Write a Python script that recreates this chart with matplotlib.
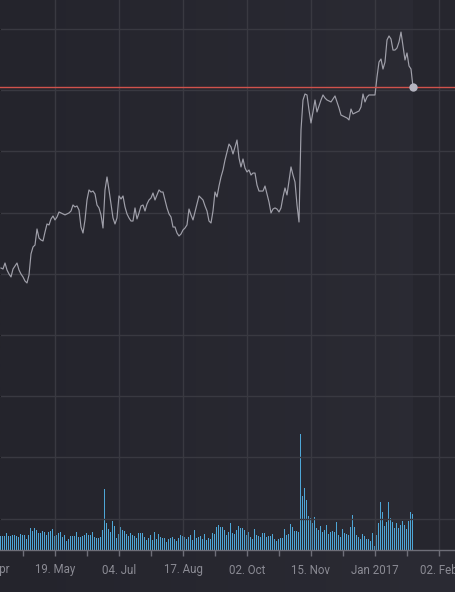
import numpy as np
import matplotlib
matplotlib.use("Agg")
import matplotlib.pyplot as plt
from matplotlib.ticker import FixedLocator, MultipleLocator
import matplotlib.transforms as mtransforms

# ---- data ----
price = [
    60.47, 60.39, 60.88, 60.31, 59.98, 59.74, 60.39, 60.64, 60.88, 60.31,
    59.98, 59.74, 59.41, 59.25, 59.90, 61.62, 62.19, 62.35, 63.66, 62.92,
    62.76, 62.68, 63.41, 64.07, 63.99, 64.48, 64.72, 64.40, 64.64, 65.05,
    64.97, 64.89, 64.81, 64.89, 64.97, 65.13, 65.62, 65.46, 65.54, 65.21,
    63.82, 63.33, 64.40, 66.03, 66.85, 66.68, 66.76, 66.52, 65.62, 65.38,
    64.81, 63.74, 66.85, 67.91, 66.85, 65.70, 64.56, 64.07, 64.56, 66.36,
    66.11, 66.36, 65.46, 64.89, 64.56, 64.31, 64.31, 65.38, 64.48, 64.97,
    65.54, 65.62, 65.13, 65.70, 66.03, 66.19, 66.60, 66.03, 66.44, 66.85,
    66.68, 66.68, 66.03, 65.38, 64.89, 64.64, 63.82, 63.82, 63.33, 63.09,
    63.25, 63.58, 63.74, 63.99, 65.29, 64.81, 64.40, 65.05, 65.70, 66.36,
    66.19, 66.03, 65.54, 65.13, 64.31, 64.15, 65.13, 66.68, 66.28, 67.17,
    67.91, 68.48, 69.29, 69.95, 70.60, 70.36, 69.79, 70.36, 70.93, 69.46,
    68.73, 69.38, 68.64, 68.32, 68.48, 68.07, 68.23, 68.23, 67.25, 66.76,
    66.76, 66.76, 67.17, 66.52, 65.86, 64.97, 65.29, 65.38, 65.29, 65.05,
    65.38, 66.28, 67.01, 66.44, 67.58, 68.73, 68.07, 67.50, 65.62, 64.23,
    71.75, 74.20, 74.69, 74.61, 73.38, 72.32, 73.22, 74.20, 73.22, 73.71,
    74.20, 74.61, 74.36, 74.20, 74.12, 74.04, 74.28, 74.53, 74.04, 73.55,
    72.97, 72.89, 72.81, 72.73, 72.57, 73.46, 73.06, 73.14, 73.22, 73.30,
    73.63, 74.69, 74.04, 74.44, 74.61, 74.61, 74.61, 74.61, 76.08, 77.30,
    77.55, 76.73, 77.30, 79.10, 79.43, 79.18, 78.28, 78.28, 78.45, 78.94,
    79.75, 78.61, 77.47, 78.04, 76.98, 76.73, 75.26,
]

volume = [
    1.4, 1.4, 1.4, 1.7, 1.4, 1.4, 1.5, 1.5, 1.4, 1.3,
    1.6, 1.5, 1.5, 1.1, 1.5, 2.2, 1.9, 2.2, 2.0, 1.7,
    1.7, 1.9, 1.8, 1.5, 1.8, 1.9, 2.1, 1.4, 1.5, 1.7,
    1.8, 1.3, 1.5, 0.9, 1.1, 1.4, 1.4, 1.4, 1.8, 1.3,
    1.3, 1.4, 1.5, 1.7, 1.5, 1.5, 1.8, 1.3, 1.2, 1.2,
    1.3, 2.0, 6.1, 2.7, 2.1, 1.8, 2.9, 2.4, 1.2, 1.6,
    2.3, 2.0, 1.9, 1.6, 1.4, 1.7, 1.5, 1.4, 1.2, 1.7,
    1.7, 1.7, 1.3, 1.0, 1.2, 1.5, 1.0, 1.8, 1.1, 1.6,
    1.3, 1.2, 1.2, 0.8, 1.1, 1.2, 1.3, 1.1, 0.9, 1.2,
    1.5, 1.4, 1.3, 1.1, 1.3, 1.5, 1.0, 2.0, 1.2, 1.3,
    1.4, 1.1, 1.6, 1.0, 1.2, 1.1, 1.7, 1.6, 2.3, 2.5,
    2.3, 2.3, 2.0, 1.5,
    1.8, 2.7, 1.7, 1.6, 2.0, 2.4, 2.2, 2.2, 2.0, 1.5,
    1.8, 1.3, 1.1, 2.1, 1.5, 1.4, 1.3, 1.7, 1.7, 1.3,
    1.4, 1.4, 1.6, 1.1, 0.9, 1.1, 1.2, 1.2, 2.1, 1.5,
    1.6, 2.6, 2.3, 1.9, 1.9, 1.8, 11.6, 5.4, 6.2, 5.0,
    3.4, 3.2, 2.7, 3.3, 2.2, 2.0, 2.4, 1.8, 2.0, 2.5,
    1.6, 1.8, 1.9, 1.8, 2.8, 1.5, 1.3, 2.1, 1.7, 1.6,
    1.5, 2.3, 3.5, 2.3, 1.5, 1.3, 1.1, 1.6, 1.4, 1.1,
    1.1, 0.9, 1.7, 0.4, 1.5, 2.7, 4.8, 3.8, 2.4, 2.8,
    4.8, 3.2, 2.8, 2.2, 2.7, 2.2, 2.5, 2.9, 2.5, 2.1,
    2.9, 3.8, 3.6,
]

tick_labels = ['05. Apr', '19. May', '04. Jul', '17. Aug', '02. Oct',
               '15. Nov', 'Jan 2017', '02. Feb']

# ---- styling ----
BG_LEFT = np.array([0x24, 0x24, 0x2c]) / 255
BG_RIGHT = np.array([0x2b, 0x2b, 0x34]) / 255
GRID = '#393941'
LINE = '#a0a0aa'
RED = '#d0524c'
BAR = '#4ea6d6'
LABEL = '#8b8b94'

W, H, DPI = 456, 592, 100
fig = plt.figure(figsize=(W / DPI, H / DPI), dpi=DPI)

# background gradient
bg = fig.add_axes([0, 0, 1, 1], zorder=-10)
grad = np.linspace(0, 1, 256)
img = (BG_LEFT[None, :] * (1 - grad[:, None]) + BG_RIGHT[None, :] * grad[:, None])
bg.imshow(img[None, :, :], aspect='auto', extent=[0, 1, 0, 1])
bg.set_axis_off()

ax_bottom = 550
ax = fig.add_axes([0, (H - ax_bottom) / H, 1, ax_bottom / H])
ax.set_facecolor('none')

n = len(price)
x = np.arange(n)
step = 32
first_tick = -5
major = [first_tick + step * k for k in range(len(tick_labels))]
minor = [m + step // 2 for m in major]

ax.set_xlim(-0.5, 227.5)
ax.set_ylim(37.43, 82.37)

# region right of last data point (slightly darker)
ax.axvspan(n - 1, 227.5, color='#1f1f26', alpha=0.35, lw=0, zorder=0)

ax.yaxis.set_major_locator(MultipleLocator(5))
ax.xaxis.set_major_locator(FixedLocator(major))
ax.xaxis.set_minor_locator(FixedLocator(minor))
ax.set_xticklabels([''] * len(major))
ax.grid(True, which='major', color=GRID, lw=1.0, zorder=1)
ax.tick_params(axis='y', left=False, labelleft=False)
ax.tick_params(axis='x', which='both', direction='out', length=4, width=1,
               color='#6e6e78')
for s in ['top', 'left', 'right']:
    ax.spines[s].set_visible(False)
ax.spines['bottom'].set_color('#6e6e78')
ax.spines['bottom'].set_linewidth(1)

# tick labels drawn as text so the partly visible first one shows
trans = mtransforms.blended_transform_factory(
    ax.transData, mtransforms.offset_copy(ax.transAxes, fig=fig, y=-20, units='dots'))
for pos, lab in zip(major, tick_labels):
    ax.text(pos, 0, lab, transform=trans, ha='center', va='center',
            color=LABEL, fontsize=8.3, family='Roboto', clip_on=False)

# volume on twin axis
axv = ax.twinx()
axv.set_ylim(0, 55)
axv.bar(np.arange(len(volume)), volume, width=0.5, color=BAR, lw=0, zorder=2)
axv.set_axis_off()
axv.set_xlim(-0.5, 227.5)

# price line
ax.plot(x, price, color=LINE, lw=0.85, zorder=3)
ax.axhline(price[-1], color=RED, lw=1.0, zorder=4)
ax.plot([x[-1]], [price[-1]], 'o', ms=6, color='#b4b4c0', mec='none', zorder=5)
ax.set_zorder(axv.get_zorder() + 1)
ax.patch.set_visible(False)

fig.savefig('out.png', dpi=DPI, facecolor=BG_LEFT)
